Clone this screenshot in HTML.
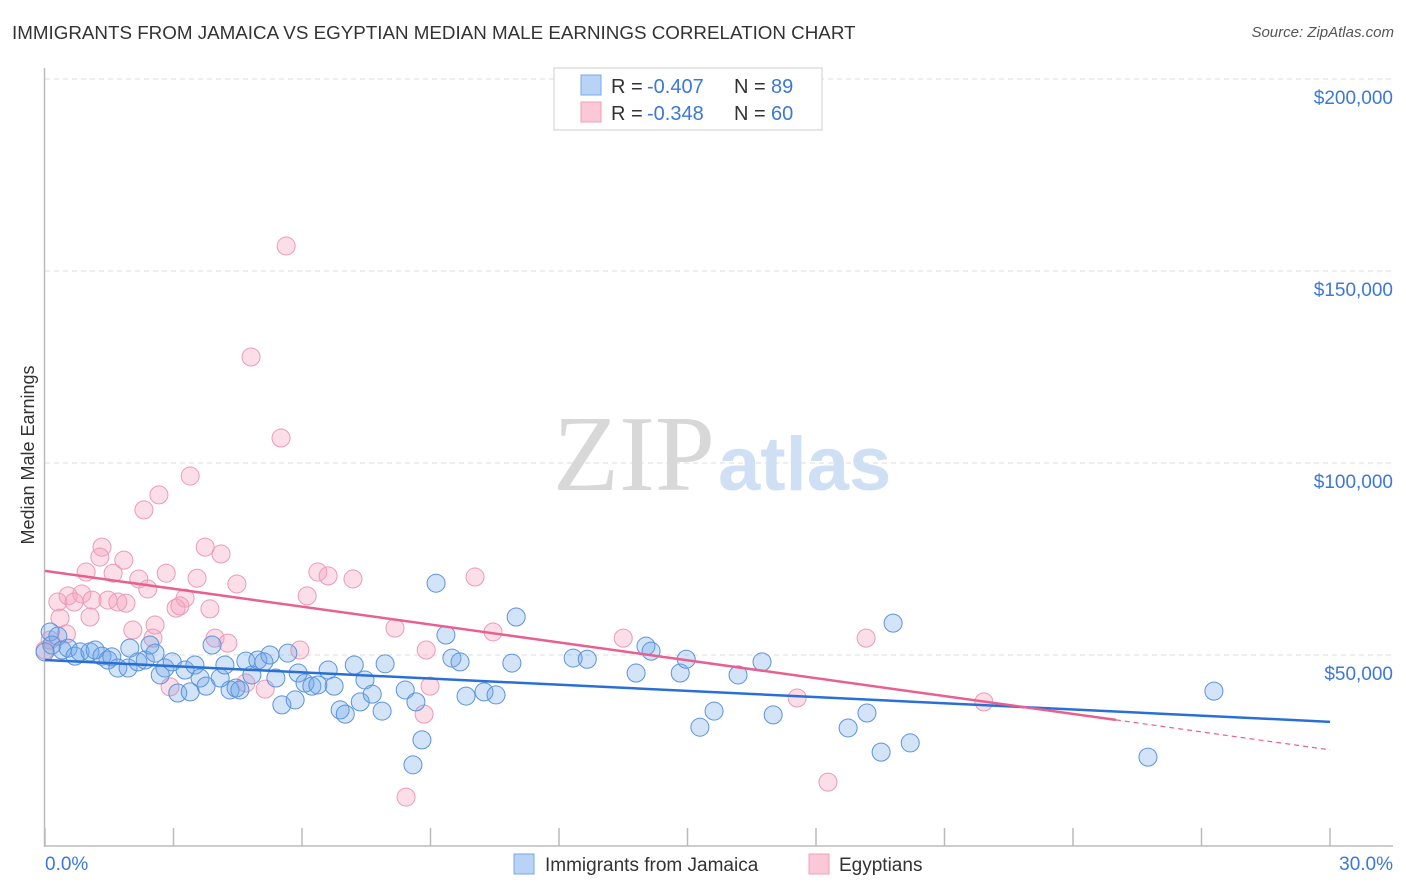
<!DOCTYPE html>
<html><head><meta charset="utf-8"><style>
body{margin:0;background:#fff;font-family:"Liberation Sans",sans-serif;}
#wrap{position:relative;width:1406px;height:892px;overflow:hidden;}
.t{position:absolute;white-space:nowrap;}
</style></head><body>
<div id="wrap">
<div class="t" style="left:12px;top:22px;font-size:18.8px;color:#333">IMMIGRANTS FROM JAMAICA VS EGYPTIAN MEDIAN MALE EARNINGS CORRELATION CHART</div>
<div class="t" style="right:12px;top:24px;font-size:15px;color:#555;font-style:italic">Source: ZipAtlas.com</div>
<svg id="svg" width="1406" height="892" style="position:absolute;left:0;top:0"></svg>
</div>
<script>
const xTickVals=[0,3,6,9,12,15,18,21,24,27,30];
const yTickVals=[50000,100000,150000,200000];
const yTickLabels=["$50,000","$100,000","$150,000","$200,000"];
const blueX=[0.12,0.30,0.16,0.40,0.54,0.70,0.82,1.05,1.17,1.33,1.47,1.56,1.70,1.94,1.98,2.17,2.34,2.45,2.57,2.69,2.80,2.97,3.10,3.27,3.39,3.50,3.62,3.76,3.90,4.09,4.20,4.32,4.46,4.55,4.69,4.83,4.97,5.11,5.25,5.39,5.53,5.67,5.84,5.91,6.07,6.23,6.37,6.61,6.75,6.89,7.01,7.22,7.36,7.47,7.64,7.87,7.94,8.41,8.66,8.80,8.59,9.13,9.36,9.50,9.69,9.83,10.25,10.53,10.90,11.00,12.33,12.66,13.80,14.03,14.15,14.83,14.97,15.29,15.62,16.18,16.74,17.00,18.75,19.19,19.52,19.80,20.20,25.75,27.29,0.0];
const blueY=[56.0,54.9,52.6,51.3,51.8,49.7,50.8,50.8,51.3,49.7,48.7,49.5,46.6,46.6,51.8,48.2,48.7,52.6,50.5,44.8,46.6,48.2,40.1,46.1,40.4,47.4,44.0,41.9,52.6,44.0,47.4,40.9,41.4,40.9,48.4,44.8,48.7,48.2,50.0,44.0,37.0,50.5,38.3,45.3,42.7,41.9,42.2,46.1,41.9,35.7,34.6,47.4,37.8,43.5,39.8,35.4,47.7,40.9,37.8,27.9,21.4,68.7,55.2,49.2,48.2,39.3,40.4,39.6,47.9,59.9,49.2,48.9,45.3,52.3,51.0,45.3,48.9,31.2,35.4,44.8,48.2,34.4,31.0,34.9,24.7,58.3,27.1,23.4,40.6,50.8];
const pinkX=[5.63,4.81,5.51,3.39,2.66,2.31,3.74,1.33,1.28,4.11,1.84,0.96,1.59,2.83,2.19,3.55,4.48,6.37,6.61,7.19,10.04,0.30,0.54,0.68,0.86,1.10,1.47,1.70,1.89,2.40,3.27,3.06,3.15,3.85,6.12,1.05,0.35,2.57,2.05,2.52,3.97,4.27,8.17,8.90,10.46,13.50,19.17,5.95,2.92,4.69,5.14,8.99,8.85,17.56,21.92,18.28,8.43,0.12,0.0,0.5];
const pinkY=[156.5,127.6,106.5,96.6,91.7,87.8,78.1,78.1,75.5,76.3,74.7,71.6,71.3,71.3,69.8,70.0,68.5,71.6,70.6,69.8,70.3,63.8,65.4,63.8,65.9,64.3,64.3,63.8,63.5,67.2,64.8,62.2,62.8,62.0,65.4,59.9,59.6,57.8,56.5,54.4,54.4,53.1,57.0,51.3,56.0,54.4,54.4,51.3,41.7,42.7,41.1,41.9,34.6,38.8,37.8,16.9,13.0,53.9,51.3,55.5];
const blueTrend=[48.7,32.6];
const pinkTrend=[71.9,33.1,25.3];
const pinkSolidEnd=25;

const NS="http://www.w3.org/2000/svg";
const svg=document.getElementById('svg');
const X=v=>45+v/30*1285;
const Y=v=>847-v/50000*192;
function mk(tag,attrs){const e=document.createElementNS(NS,tag);for(const k in attrs)e.setAttribute(k,attrs[k]);svg.appendChild(e);return e;}
function txt(x,y,s,attrs){const e=mk('text',Object.assign({x:x,y:y,'font-family':'Liberation Sans, sans-serif'},attrs));e.textContent=s;return e;}

yTickVals.forEach((v,i)=>{
 const g=mk('line',{x1:45,x2:1393,y1:Y(v),y2:Y(v),stroke:'#ddd','stroke-dasharray':'5,4'});
 
 
 const t=txt(1393,Y(v)+25,yTickLabels[i],{'text-anchor':'end','font-size':19,fill:'#3c78d8'});
 
 
});
const ya=mk('line',{x1:44.5,x2:44.5,y1:68,y2:847,stroke:'#bbb','stroke-width':1.5});


const xa=mk('line',{x1:45,x2:1393,y1:846,y2:846,stroke:'#bbb','stroke-width':1.5});


xTickVals.forEach(v=>{
 const t=mk('line',{x1:X(v),x2:X(v),y1:828,y2:846,stroke:'#bbb','stroke-width':1.5});
 
 
});
const xl0=txt(45,870,'0.0%',{'font-size':19,fill:'#3c78d8'});


const xl1=txt(1393,870,'30.0%',{'font-size':19,fill:'#3c78d8','text-anchor':'end'});


const yt=txt(0,0,'Median Male Earnings',{'font-size':18,fill:'#333','text-anchor':'middle',transform:'translate(34,455) rotate(-90)'});


const wm1=txt(553,490,'ZIP',{'font-size':108,fill:'#d8d8d8','font-family':'Liberation Serif, serif'});


const wm2=txt(718,490,'atlas',{'font-size':76,fill:'#cfe0f5','font-weight':'bold'});



pinkX.forEach((x,i)=>{
 const c=mk('circle',{cx:X(x),cy:Y(pinkY[i]*1000),r:9,fill:'rgba(244,160,188,0.35)',stroke:'#ec9bb5','stroke-width':1});
 
 
});
blueX.forEach((x,i)=>{
 const c=mk('circle',{cx:X(x),cy:Y(blueY[i]*1000),r:9,fill:'rgba(110,165,232,0.3)',stroke:'#5b93dd','stroke-width':1});
 
 
});
const bl=mk('line',{x1:X(0),y1:Y(blueTrend[0]*1000),x2:X(30),y2:Y(blueTrend[1]*1000),stroke:'#2a6fd6','stroke-width':2.5});


const pl=mk('line',{x1:X(0),y1:Y(pinkTrend[0]*1000),x2:X(pinkSolidEnd),y2:Y(pinkTrend[1]*1000),stroke:'#e8608f','stroke-width':2.5});


const pd=mk('line',{x1:X(pinkSolidEnd),y1:Y(pinkTrend[1]*1000),x2:X(30),y2:Y(pinkTrend[2]*1000),stroke:'#e8608f','stroke-width':1.2,'stroke-dasharray':'5,4'});



const lb=mk('rect',{x:554,y:68,width:268,height:62,fill:'#fff',stroke:'#ccc'});


[[ '#b8d3f5','#7aa7e6','-0.407','89',86],['#fbc8d7','#eea0b8','-0.348','60',113]].forEach((r,i)=>{
 const s=mk('rect',{x:581,y:r[4]-11,width:20,height:20,fill:r[0],stroke:r[1]});
 
 
 const t1=txt(611,r[4]+7,'R = ',{'font-size':20,fill:'#333'});
 
 
 const t2=txt(647,r[4]+7,r[2],{'font-size':20,fill:'#3c78d8'});
 
 
 const t3=txt(734,r[4]+7,'N = ',{'font-size':20,fill:'#333'});
 
 
 const t4=txt(771,r[4]+7,r[3],{'font-size':20,fill:'#3c78d8'});
 
 
});
const s1=mk('rect',{x:514,y:854,width:20,height:20,fill:'#b8d3f5',stroke:'#7aa7e6'});


const l1=txt(545,871,'Immigrants from Jamaica',{'font-size':19,fill:'#333'});


const s2=mk('rect',{x:809,y:854,width:20,height:20,fill:'#fbc8d7',stroke:'#eea0b8'});


const l2=txt(839,871,'Egyptians',{'font-size':19,fill:'#333'});


</script>
</body></html>
